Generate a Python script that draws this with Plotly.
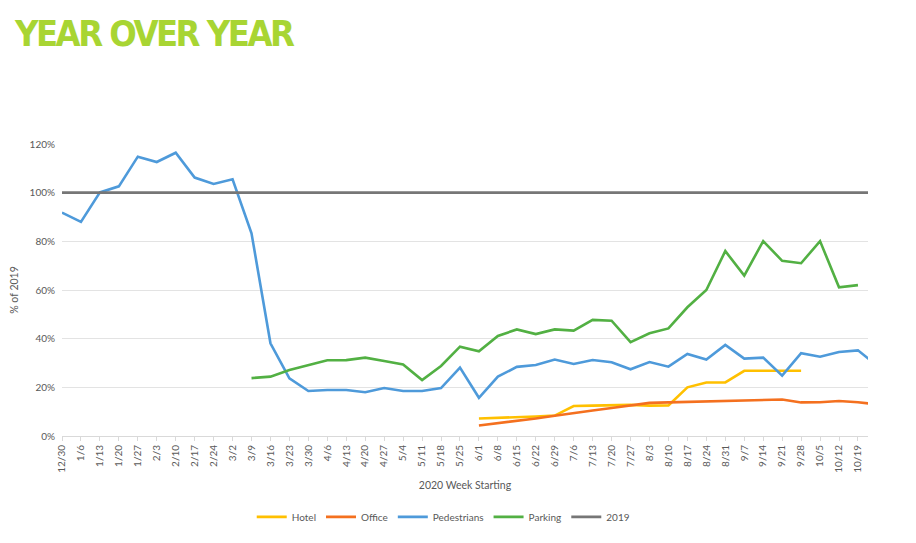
import plotly.graph_objects as go

weeks = ['12/30', '1/6', '1/13', '1/20', '1/27', '2/3', '2/10', '2/17', '2/24', '3/2',
         '3/9', '3/16', '3/23', '3/30', '4/6', '4/13', '4/20', '4/27', '5/4', '5/11',
         '5/18', '5/25', '6/1', '6/8', '6/15', '6/22', '6/29', '7/6', '7/13', '7/20',
         '7/27', '8/3', '8/10', '8/17', '8/24', '8/31', '9/7', '9/14', '9/21', '9/28',
         '10/5', '10/12', '10/19', '10/26']

N = None
# values in % of 2019 (None = no data that week)
hotel = [N] * 22 + [7.2, 7.4, 7.7, 8.0, 8.4, 12.3, 12.5, 12.6, 12.8, 12.5,
                    12.6, 20.0, 22.0, 22.0, 26.8, 26.8, 26.8, 26.8, N, N, N, N]
office = [N] * 22 + [4.3, 5.2, 6.2, 7.2, 8.3, 9.5, 10.5, 11.5, 12.5, 13.6,
                     13.8, 14.0, 14.2, 14.4, 14.6, 15.0, 15.0, 13.8, 13.9, 14.4, 13.9, 13.0]
pedestrians = [91.8, 88.0, 100.1, 102.6, 114.8, 112.6, 116.4, 106.2, 103.6, 105.5,
               83.3, 38.1, 23.7, 18.5, 18.9, 18.9, 18.0, 19.7, 18.5, 18.5,
               19.7, 28.1, 15.7, 24.4, 28.4, 29.2, 31.4, 29.6, 31.2, 30.3,
               27.4, 30.4, 28.5, 33.7, 31.4, 37.4, 31.8, 32.2, 24.8, 34.0,
               32.6, 34.5, 35.2, 29.0]
parking = [N] * 10 + [23.8, 24.4, 27.1, 29.2, 31.1, 31.2, 32.2, 30.8, 29.4, 23.0,
                      28.8, 36.7, 34.8, 41.1, 43.8, 41.9, 43.8, 43.3, 47.7, 47.4,
                      38.6, 42.2, 44.2, 52.9, 60.0, 76.0, 65.9, 80.1, 72.0, 71.0,
                      80.1, 61.1, 62.0, N]
baseline = [100.0] * len(weeks)

series = [
    ('Hotel', hotel, '#FFC000'),
    ('Office', office, '#F4701F'),
    ('Pedestrians', pedestrians, '#4E9ADA'),
    ('Parking', parking, '#52B043'),
    ('2019', baseline, '#767676'),
]

fig = go.Figure()
for name, vals, col in series:
    fig.add_trace(go.Scatter(
        x=weeks, y=[v / 100 if v is not None else None for v in vals],
        name=name, mode='lines',
        line=dict(color=col, width=2.6),
    ))

grey = '#595959'
# page has an 8px body margin, so the figure margins are shifted by 8px
fig.update_layout(
    width=916, height=543,
    paper_bgcolor='white', plot_bgcolor='white',
    margin=dict(l=54, r=56, t=136, b=115),
    font=dict(family='Lato, Open Sans, sans-serif', color=grey, size=10),
    showlegend=True,
    legend=dict(orientation='h', x=0.473, xanchor='center', y=-0.277, yanchor='middle',
                font=dict(size=10, color=grey), itemwidth=30, traceorder='normal'),
    xaxis=dict(
        type='category', range=[0, 42.53], tickangle=-90, automargin=False,
        tickfont=dict(size=10, color=grey),
        showgrid=False, showline=True, linecolor='#D9D9D9', linewidth=1,
        ticks='outside', ticklen=4, tickcolor='#D9D9D9',
        title=dict(text='2020 Week Starting', font=dict(size=10.5, color=grey), standoff=9),
    ),
    yaxis=dict(
        range=[0, 1.2], dtick=0.2, tickformat='.0%', automargin=False,
        tickfont=dict(size=10, color=grey),
        showgrid=True, gridcolor='#E3E3E3', gridwidth=1, zeroline=False,
        showline=False, ticks='', ticklabelstandoff=6,
        title=dict(text='% of 2019', font=dict(size=10.5, color=grey), standoff=8),
    ),
    annotations=[dict(
        text='<b><span style="font-stretch:condensed;letter-spacing:-2.5px">YEAR OVER YEAR</span></b>',
        xref='paper', yref='paper',
        x=-0.062, y=1.38, xanchor='left', yanchor='middle', showarrow=False,
        font=dict(family='DejaVu Sans Condensed, DejaVu Sans, sans-serif',
                  size=36, color='#A8D533'),
    )],
)

fig.write_html('out.html')
